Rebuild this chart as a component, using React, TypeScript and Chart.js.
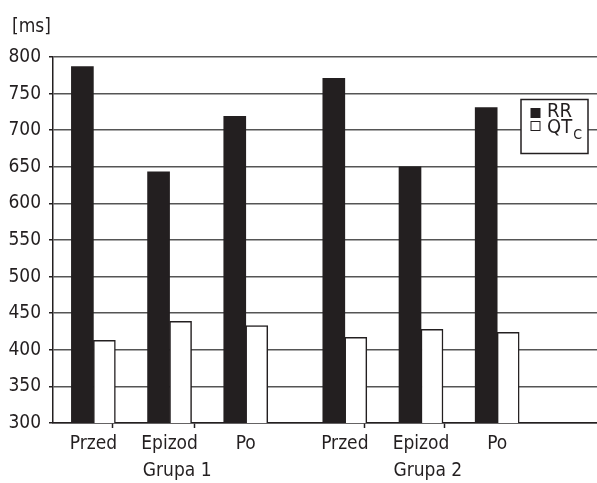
import { useEffect, useRef } from 'react';
import { Chart, registerables } from 'chart.js';

Chart.register(...registerables);

// ---- data ----
const categoryLabels = ['Przed', 'Epizod', 'Po', 'Przed', 'Epizod', 'Po'];
const categoryPositions = [1, 2, 3, 4.3, 5.3, 6.3];
const groupLabels = ['Grupa 1', 'Grupa 2'];
const groupPositions = [2.1, 5.39];
const separatorPositions = [1.51, 2.55, 4.82, 5.83];
const rrValues = [787, 643, 719, 771, 650, 731];
const qtcValues = [413, 439, 433, 417, 428, 424];
const seriesLabels = ['RR', 'QT_C'];
const unitLabel = '[ms]';
const yMin = 300;
const yMax = 800;
const yStep = 50;

const FONT = "'Liberation Sans Narrow', 'Arial Narrow', 'DejaVu Sans Condensed', 'Liberation Sans', sans-serif";
const INK = '#231f20';

const allTicks = [...categoryPositions, ...groupPositions, ...separatorPositions].sort((a, b) => a - b);

const extrasPlugin = {
  id: 'extras',
  afterDraw(chart: any) {
    const ctx = chart.ctx;
    const area = chart.chartArea;
    ctx.save();
    // unit label
    ctx.fillStyle = INK;
    ctx.font = `19px ${FONT}`;
    ctx.textAlign = 'left';
    ctx.textBaseline = 'alphabetic';
    ctx.fillText(unitLabel, 12, 32);

    // legend box
    const bx = area.right - 76;
    const by = area.top + 42.5;
    const bw = 67;
    const bh = 54;
    ctx.fillStyle = '#ffffff';
    ctx.fillRect(bx, by, bw, bh);
    ctx.strokeStyle = INK;
    ctx.lineWidth = 1.5;
    ctx.strokeRect(bx, by, bw, bh);

    chart.data.datasets.forEach((ds: any, i: number) => {
      const sqY = by + 13.5 + i * 13;
      const txY = by + 12 + i * 16.5;
      const sx = bx + 9.5;
      ctx.fillStyle = ds.backgroundColor;
      ctx.fillRect(sx, sqY - 5, 10, 10);
      if (ds.backgroundColor === '#ffffff') {
        ctx.strokeStyle = INK;
        ctx.lineWidth = 1;
        ctx.strokeRect(sx + 0.5, sqY - 4.5, 9, 9);
      }
      const [main, sub] = String(ds.label).split('_');
      ctx.fillStyle = INK;
      ctx.font = `20px ${FONT}`;
      ctx.textAlign = 'left';
      ctx.textBaseline = 'middle';
      ctx.fillText(main, bx + 26, txY);
      if (sub) {
        const w = ctx.measureText(main).width;
        ctx.font = `14px ${FONT}`;
        ctx.fillText(sub, bx + 26 + w + 1, txY + 7);
      }
    });
    ctx.restore();
  },
};

export default function App() {
  const canvasRef = useRef<HTMLCanvasElement | null>(null);

  useEffect(() => {
    if (!canvasRef.current) return;
    const chart = new Chart(canvasRef.current, {
      type: 'bar',
      data: {
        datasets: [
          {
            label: seriesLabels[0],
            data: categoryPositions.map((x, i) => ({ x, y: rrValues[i] })),
            backgroundColor: INK,
            borderColor: INK,
            borderWidth: 0,
            barThickness: 22,
          },
          {
            label: seriesLabels[1],
            data: categoryPositions.map((x, i) => ({ x, y: qtcValues[i] })),
            backgroundColor: '#ffffff',
            borderColor: INK,
            borderWidth: 1.5,
            barThickness: 22,
          },
        ],
      } as any,
      options: {
        animation: false,
        responsive: true,
        maintainAspectRatio: false,
        events: [],
        layout: { padding: { top: 57, right: 0, bottom: 0, left: 0 } },
        plugins: {
          legend: { display: false },
          tooltip: { enabled: false },
          title: { display: false },
        },
        scales: {
          x: {
            type: 'linear',
            min: 0.47,
            max: 7.61,
            offset: false,
            afterBuildTicks: (s: any) => {
              s.ticks = allTicks.map((v) => ({ value: v }));
            },
            afterFit: (s: any) => {
              s.height = 60;
            },
            ticks: {
              autoSkip: false,
              maxRotation: 0,
              minRotation: 0,
              color: INK,
              padding: 3,
              font: { family: FONT, size: 19, lineHeight: 1.4 },
              callback: (value: any) => {
                const ci = categoryPositions.indexOf(value);
                if (ci >= 0) return [categoryLabels[ci], ''];
                const gi = groupPositions.indexOf(value);
                if (gi >= 0) return ['', groupLabels[gi]];
                return '';
              },
            },
            grid: {
              drawOnChartArea: false,
              tickLength: 5,
              tickWidth: 1.5,
              tickColor: (c: any) =>
                c.tick && separatorPositions.includes(c.tick.value) ? INK : 'rgba(0,0,0,0)',
            },
            border: { color: INK, width: 1.5 },
          },
          y: {
            min: yMin,
            max: yMax,
            afterFit: (s: any) => {
              s.width = 53;
            },
            ticks: {
              stepSize: yStep,
              color: INK,
              padding: 8,
              font: { family: FONT, size: 19 },
            },
            grid: {
              color: '#555555',
              lineWidth: 1.5,
              tickLength: 4,
              tickColor: INK,
            },
            border: { color: INK, width: 1.5 },
          },
        },
      } as any,
      plugins: [extrasPlugin],
    });
    return () => chart.destroy();
  }, []);

  return (
    <div style={{ position: 'absolute', left: 0, top: 0, width: 597, height: 483, background: '#fff' }}>
      <canvas ref={canvasRef} />
    </div>
  );
}
